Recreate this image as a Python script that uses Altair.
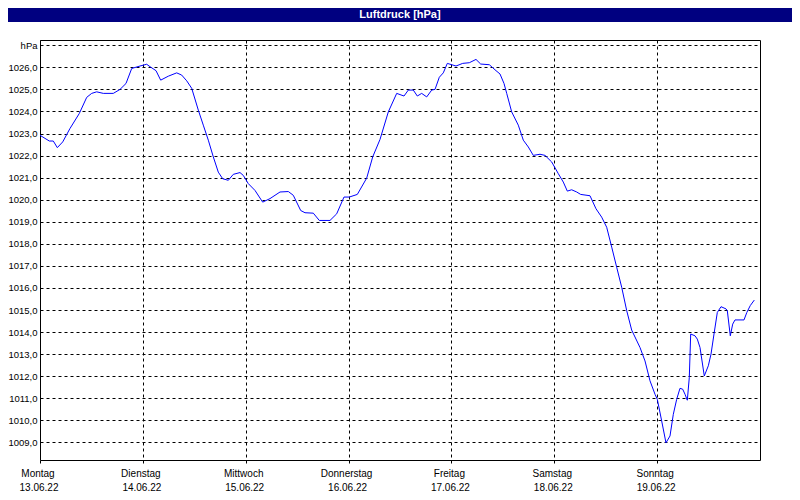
import altair as alt
import pandas as pd

# Hours since Monday 13.06.22 00:00 and air pressure [hPa]
hours = [0.0, 2.17, 3.1, 4.04, 5.3, 7.0, 9.17, 10.9, 12.06, 13.23, 14.77, 17.1, 18.67, 20.07,
         21.4, 23.33, 24.9, 25.67, 27.07, 28.16, 29.94, 31.9, 33.06, 34.23, 35.4, 36.94, 38.1,
         39.27, 40.44, 41.6, 42.63, 43.94, 45.1, 46.67, 47.44, 48.6, 50.17, 51.96, 53.67, 56.0,
         57.94, 59.1, 60.83, 61.83, 63.77, 65.17, 67.67, 69.23, 70.93, 72.17, 74.04, 76.23,
         77.63, 79.33, 81.27, 83.23, 84.93, 85.94, 87.1, 88.04, 89.06, 90.23, 91.4, 92.17,
         93.17, 94.1, 95.04, 97.07, 98.63, 100.17, 101.73, 102.83, 104.84, 106.4, 107.33,
         108.27, 108.9, 110.06, 111.6, 112.77, 113.94, 115.1, 116.67, 117.83, 119.4, 120.94,
         122.1, 123.04, 124.06, 125.23, 126.16, 128.33, 129.73, 131.06, 132.23, 133.4, 134.56,
         135.73, 136.9, 138.06, 140.0, 141.17, 142.33, 143.5, 144.04, 145.06, 146.06, 147.0,
         147.77, 148.56, 149.33, 149.96, 150.5, 151.04, 151.5, 151.83, 152.83, 153.37, 154.0,
         155.0, 155.94, 156.57, 157.27, 158.04, 158.9, 160.07, 160.37, 161.07, 161.63, 162.17,
         164.27, 164.93, 165.73, 166.67]
pressure = [1022.92, 1022.66, 1022.66, 1022.36, 1022.62, 1023.23, 1023.91, 1024.64, 1024.82,
            1024.89, 1024.82, 1024.82, 1025.0, 1025.27, 1025.95, 1026.06, 1026.14, 1026.03,
            1025.85, 1025.42, 1025.6, 1025.75, 1025.65, 1025.39, 1025.05, 1024.06, 1023.38,
            1022.7, 1021.94, 1021.25, 1020.95, 1020.88, 1021.15, 1021.23, 1021.1, 1020.73,
            1020.42, 1019.89, 1020.05, 1020.35, 1020.37, 1020.2, 1019.51, 1019.41, 1019.39,
            1019.06, 1019.06, 1019.36, 1020.12, 1020.12, 1020.24, 1020.98, 1021.94, 1022.73,
            1023.98, 1024.82, 1024.7, 1024.97, 1024.97, 1024.7, 1024.82, 1024.66, 1024.97,
            1025.0, 1025.55, 1025.75, 1026.18, 1026.06, 1026.18, 1026.21, 1026.36, 1026.15,
            1026.12, 1025.85, 1025.7, 1025.27, 1024.82, 1023.98, 1023.38, 1022.7, 1022.39,
            1022.01, 1022.06, 1022.01, 1021.71, 1021.18, 1020.8, 1020.39, 1020.45, 1020.35,
            1020.24, 1020.18, 1019.59, 1019.21, 1018.75, 1017.85, 1016.94, 1016.03, 1014.97,
            1014.09, 1013.3, 1012.69, 1011.79, 1011.18, 1010.95, 1009.97, 1008.98, 1009.29,
            1010.27, 1010.95, 1011.45, 1011.41, 1011.18, 1010.91, 1011.94, 1013.91, 1013.83,
            1013.68, 1013.3, 1012.01, 1012.47, 1013.0, 1013.91, 1014.89, 1015.15, 1015.05,
            1014.97, 1013.83, 1014.36, 1014.55, 1014.55, 1014.89, 1015.2, 1015.45]

day_hours = [0, 24, 48, 72, 96, 120, 144]
day_names = ["Montag", "Dienstag", "Mittwoch", "Donnerstag", "Freitag", "Samstag", "Sonntag"]
day_dates = ["13.06.22", "14.06.22", "15.06.22", "16.06.22", "17.06.22", "18.06.22", "19.06.22"]
y_ticks = list(range(1009, 1028))
chart_title = "Luftdruck [hPa]"

df = pd.DataFrame({"h": hours, "p": pressure})
days = pd.DataFrame({"h": day_hours, "name": day_names, "date": day_dates})
tdf = pd.DataFrame({"t": [chart_title]})

x_scale = alt.Scale(domain=[0, 168], nice=False, zero=False)
y_scale = alt.Scale(domain=[1008.2, 1027.24], nice=False, zero=False)

FONT = "Liberation Sans"

line = alt.Chart(df).mark_line(color="#0000ff", strokeWidth=1).encode(
    x=alt.X("h:Q", scale=x_scale,
            axis=alt.Axis(values=day_hours, grid=True, gridDash=[3, 3], gridColor="black",
                          gridOpacity=1, gridWidth=1, labels=False, ticks=True, tickSize=3,
                          tickColor="black", domain=False, title=None)),
    y=alt.Y("p:Q", scale=y_scale,
            axis=alt.Axis(values=y_ticks, grid=True, gridDash=[3, 3], gridColor="black",
                          gridOpacity=1, gridWidth=1, ticks=False, domain=False,
                          labelPadding=3, labelFont=FONT, labelFontSize=9.5,
                          labelColor="black",
                          labelExpr="datum.value == 1027 ? 'hPa' : replace(format(datum.value, '.1f'), '.', ',')",
                          title=None)),
)

names = alt.Chart(days).mark_text(font=FONT, fontSize=10, color="black",
                                  baseline="middle", dx=-2).encode(
    x=alt.X("h:Q", scale=x_scale), y=alt.value(434), text="name:N")
dates = alt.Chart(days).mark_text(font=FONT, fontSize=10, color="black",
                                  baseline="middle", dx=-1).encode(
    x=alt.X("h:Q", scale=x_scale), y=alt.value(447.5), text="date:N")

bar = alt.Chart(tdf).mark_rect(color="#000080").encode(
    x=alt.value(-32), x2=alt.value(752), y=alt.value(-32), y2=alt.value(-18))
title = alt.Chart(tdf).mark_text(color="white", font=FONT, fontWeight="bold", fontSize=11,
                                 baseline="middle").encode(
    x=alt.value(360), y=alt.value(-25), text="t:N")

chart = alt.layer(line, names, dates, bar, title).properties(
    width=720, height=420,
    autosize=alt.AutoSizeParams(type="none"),
    padding={"left": 32, "top": 32, "right": 32, "bottom": 32},
    background="white",
).configure_view(stroke="black", strokeWidth=1)

chart.save("out.html", embed_options={"renderer": "svg", "actions": False})
